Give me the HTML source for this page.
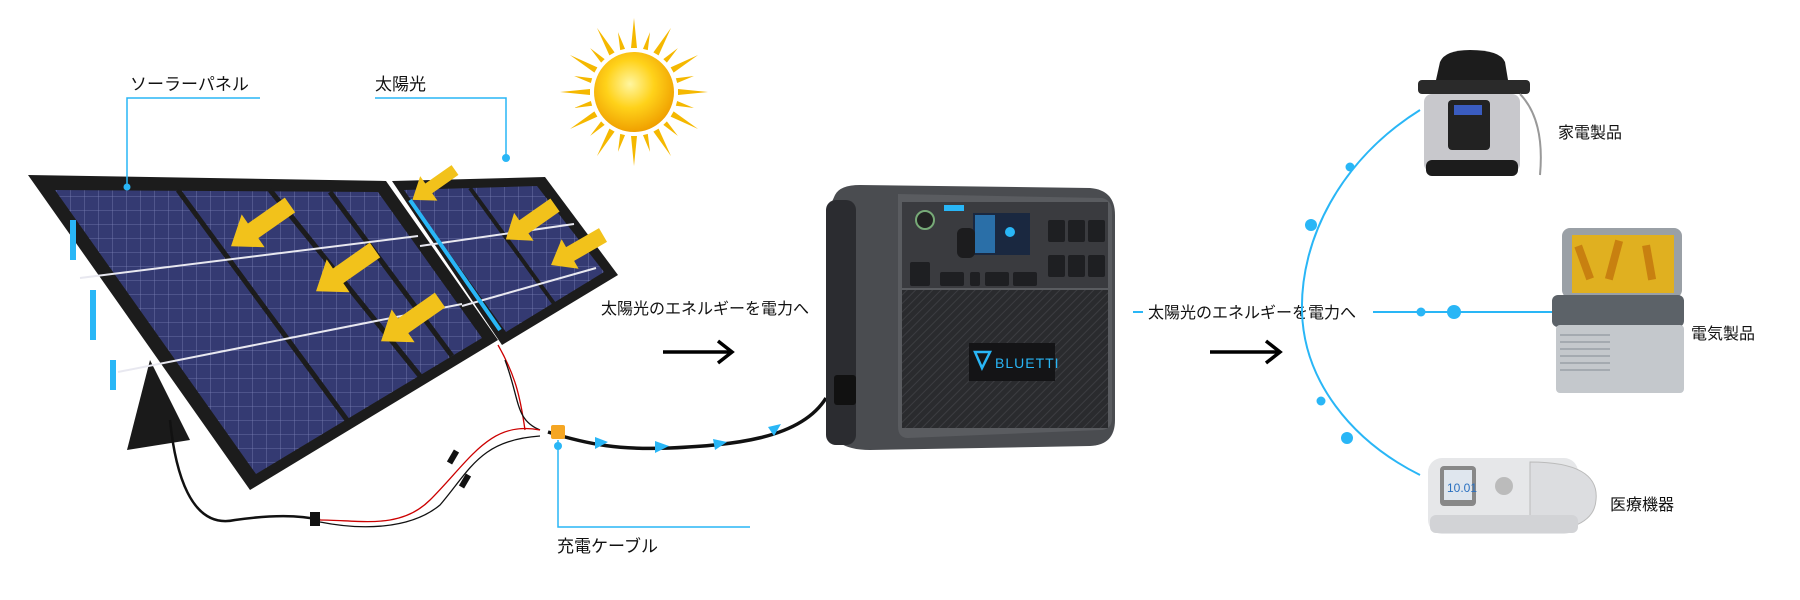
<!DOCTYPE html>
<html><head><meta charset="utf-8"><style>
html,body{margin:0;padding:0;background:#fff;}
svg{display:block}
text{font-family:"Liberation Sans","Noto Sans CJK JP",sans-serif;fill:#111;}
</style></head><body>
<svg width="1800" height="600" viewBox="0 0 1800 600" xmlns="http://www.w3.org/2000/svg">
<defs>
<radialGradient id="sun" cx="45%" cy="40%" r="60%"><stop offset="0" stop-color="#fff6a0"/><stop offset="0.5" stop-color="#ffd21a"/><stop offset="1" stop-color="#f0a000"/></radialGradient>
<pattern id="cells" width="14" height="14" patternUnits="userSpaceOnUse"><rect width="14" height="14" fill="#343a72"/><path d="M0 0H14M0 0V14" stroke="#7a80b4" stroke-width="0.8"/></pattern>
<pattern id="carbon" width="6" height="6" patternUnits="userSpaceOnUse" patternTransform="rotate(45)"><rect width="6" height="6" fill="#2a2b2e"/><path d="M0 0V6" stroke="#3c3d41" stroke-width="2"/></pattern>
<polygon id="ray" points="-3,-44 3,-44 0,-74"/>
<polygon id="ray2" points="-2.5,-44 2.5,-44 0,-62"/>
</defs>

<!-- Sun -->
<g transform="translate(634,92)" fill="#f5b800">
<use href="#ray" transform="rotate(0)"/><use href="#ray2" transform="rotate(15)"/><use href="#ray" transform="rotate(30)"/><use href="#ray2" transform="rotate(45)"/>
<use href="#ray" transform="rotate(60)"/><use href="#ray2" transform="rotate(75)"/><use href="#ray" transform="rotate(90)"/><use href="#ray2" transform="rotate(105)"/>
<use href="#ray" transform="rotate(120)"/><use href="#ray2" transform="rotate(135)"/><use href="#ray" transform="rotate(150)"/><use href="#ray2" transform="rotate(165)"/>
<use href="#ray" transform="rotate(180)"/><use href="#ray2" transform="rotate(195)"/><use href="#ray" transform="rotate(210)"/><use href="#ray2" transform="rotate(225)"/>
<use href="#ray" transform="rotate(240)"/><use href="#ray2" transform="rotate(255)"/><use href="#ray" transform="rotate(270)"/><use href="#ray2" transform="rotate(285)"/>
<use href="#ray" transform="rotate(300)"/><use href="#ray2" transform="rotate(315)"/><use href="#ray" transform="rotate(330)"/><use href="#ray2" transform="rotate(345)"/>
<circle r="40" fill="url(#sun)"/>
</g>

<!-- Stand -->
<polygon points="127,450 150,360 190,440 127,450" fill="#1a1a1a"/>
<!-- Left panel -->
<polygon points="28,175 386,181 498,340 250,490" fill="#1c1c1c"/>
<polygon points="55,190 378,192 482,338 256,474" fill="url(#cells)"/>
<g stroke="#1c1c1c" stroke-width="5"><line x1="178" y1="190" x2="347" y2="420"/><line x1="270" y1="190" x2="420" y2="376"/><line x1="330" y1="192" x2="452" y2="356"/></g>
<g stroke="#e8e8f0" stroke-width="2"><line x1="80" y1="278" x2="418" y2="236"/><line x1="118" y1="372" x2="462" y2="304"/></g>
<g fill="#29b6f6"><rect x="70" y="220" width="6" height="40"/><rect x="90" y="290" width="6" height="50"/><rect x="110" y="360" width="6" height="30"/></g>
<!-- Right panel -->
<polygon points="392,181 545,177 618,275 502,345" fill="#1c1c1c"/>
<polygon points="404,190 537,186 604,272 506,332" fill="url(#cells)"/>
<g stroke="#1c1c1c" stroke-width="4"><line x1="470" y1="188" x2="555" y2="305"/></g>
<g stroke="#e8e8f0" stroke-width="2"><line x1="420" y1="246" x2="574" y2="224"/><line x1="462" y1="306" x2="596" y2="268"/></g>
<line x1="410" y1="200" x2="500" y2="330" stroke="#29b6f6" stroke-width="4"/>

<!-- Yellow arrows -->
<g fill="#f2c21b">
<g transform="translate(455,170) rotate(145)"><polygon points="0,-6 32,-6 32,-15 52,0 32,15 32,6 0,6"/></g>
<g transform="translate(290,205) rotate(145)"><polygon points="0,-9 45,-9 45,-20 72,0 45,20 45,9 0,9"/></g>
<g transform="translate(375,250) rotate(145)"><polygon points="0,-9 45,-9 45,-20 72,0 45,20 45,9 0,9"/></g>
<g transform="translate(440,300) rotate(145)"><polygon points="0,-9 45,-9 45,-20 72,0 45,20 45,9 0,9"/></g>
<g transform="translate(555,205) rotate(145)"><polygon points="0,-8 38,-8 38,-17 60,0 38,17 38,8 0,8"/></g>
<g transform="translate(603,235) rotate(150)"><polygon points="0,-8 38,-8 38,-17 60,0 38,17 38,8 0,8"/></g>
</g>

<!-- Callout lines -->
<g stroke="#29b6f6" stroke-width="1.5" fill="none">
<polyline points="260,98 127,98 127,187"/>
<polyline points="375,98 506,98 506,158"/>
<polyline points="750,527 558,527 558,440"/>
</g>
<g fill="#29b6f6"><circle cx="127" cy="187" r="3.5"/><circle cx="506" cy="158" r="4"/><circle cx="558" cy="446" r="4"/></g>
<text x="130" y="90" font-size="17">ソーラーパネル</text>
<text x="375" y="90" font-size="17">太陽光</text>
<text x="557" y="552" font-size="17">充電ケーブル</text>

<!-- Cables from panel -->
<path d="M498,345 C515,375 520,395 525,430" stroke="#c00" stroke-width="1.3" fill="none"/>
<path d="M505,360 C520,400 515,420 540,430" stroke="#111" stroke-width="1.3" fill="none"/>
<path d="M540,430 C490,420 470,460 430,500 C400,530 360,520 320,520" stroke="#c00" stroke-width="1.3" fill="none"/>
<path d="M540,436 C480,440 470,470 440,505 C410,530 360,530 320,522" stroke="#111" stroke-width="1.3" fill="none"/>
<path d="M170,420 C175,470 190,530 235,520 C270,515 300,515 320,520" stroke="#111" stroke-width="2.5" fill="none"/>
<rect x="310" y="512" width="10" height="14" fill="#111"/>
<rect x="450" y="450" width="6" height="14" fill="#111" transform="rotate(30 453 457)"/>
<rect x="462" y="474" width="6" height="14" fill="#111" transform="rotate(30 465 481)"/>
<!-- Main cable -->
<path d="M548,432 C590,445 620,450 670,448 C730,445 800,440 826,398" stroke="#111" stroke-width="3.5" fill="none"/>
<rect x="551" y="425" width="14" height="14" rx="2" fill="#f5a623"/>
<g fill="#29b6f6">
<polygon points="595,437 608,442 595,449"/><polygon points="655,441 669,446 655,453"/><polygon points="713,439 727,442 715,450"/><polygon points="768,427 781,424 774,436"/>
</g>

<!-- Power station -->
<g>
<path d="M835,195 Q840,185 860,185 L1090,188 Q1115,190 1115,215 L1115,420 Q1115,445 1090,446 L870,450 Q830,450 826,420 L826,215 Z" fill="#4a4c50"/>
<rect x="826" y="200" width="30" height="245" rx="10" fill="#2b2c30"/>
<path d="M898,194 L1102,198 Q1112,200 1112,212 L1112,418 Q1112,430 1100,430 L908,438 Q898,438 898,426 Z" fill="#5a5c60"/>
<rect x="902" y="290" width="206" height="138" fill="url(#carbon)"/>
<rect x="902" y="202" width="206" height="86" fill="#3a3b3f"/>
<circle cx="925" cy="220" r="9" fill="#222" stroke="#7a7" stroke-width="2"/>
<rect x="944" y="205" width="20" height="6" fill="#29b6f6"/>
<rect x="973" y="213" width="57" height="42" fill="#1a2840"/>
<rect x="975" y="215" width="20" height="38" fill="#2a6fa8"/>
<circle cx="1010" cy="232" r="5" fill="#29b6f6"/>
<rect x="957" y="228" width="18" height="30" rx="6" fill="#1c1c1e"/>
<g fill="#1e1f22">
<rect x="1048" y="220" width="17" height="22" rx="2"/><rect x="1068" y="220" width="17" height="22" rx="2"/><rect x="1088" y="220" width="17" height="22" rx="2"/>
<rect x="1048" y="255" width="17" height="22" rx="2"/><rect x="1068" y="255" width="17" height="22" rx="2"/><rect x="1088" y="255" width="17" height="22" rx="2"/>
<rect x="910" y="262" width="20" height="24" rx="2"/><rect x="940" y="272" width="24" height="14" rx="2"/>
<rect x="970" y="272" width="10" height="14" rx="2"/><rect x="985" y="272" width="24" height="14" rx="2"/><rect x="1013" y="272" width="24" height="14" rx="2"/>
</g>
<rect x="969" y="343" width="86" height="38" fill="#141416"/>
<polygon points="975,352 990,352 982,368" fill="none" stroke="#29b6f6" stroke-width="2.5"/>
<text x="995" y="368" font-size="14" style="fill:#29b6f6" letter-spacing="1">BLUETTI</text>
<rect x="834" y="375" width="22" height="30" rx="3" fill="#111"/>
</g>

<!-- Middle texts and arrows -->
<text x="601" y="314" font-size="16">太陽光のエネルギーを電力へ</text>
<line x1="663" y1="352" x2="730" y2="352" stroke="#000" stroke-width="3.5"/>
<polyline points="718,341 732,352 718,363" fill="none" stroke="#000" stroke-width="3.5"/>
<line x1="1133" y1="312" x2="1143" y2="312" stroke="#29b6f6" stroke-width="2"/>
<text x="1148" y="318" font-size="16">太陽光のエネルギーを電力へ</text>
<line x1="1210" y1="352" x2="1278" y2="352" stroke="#000" stroke-width="3.5"/>
<polyline points="1266,341 1280,352 1266,363" fill="none" stroke="#000" stroke-width="3.5"/>

<!-- Blue arc -->
<path d="M1420,110 C1340,160 1300,240 1302,312 C1304,380 1350,440 1420,475" stroke="#29b6f6" stroke-width="2" fill="none"/>
<line x1="1373" y1="312" x2="1552" y2="312" stroke="#29b6f6" stroke-width="2"/>
<g fill="#29b6f6"><circle cx="1350" cy="167" r="4.5"/><circle cx="1311" cy="225" r="6"/><circle cx="1321" cy="401" r="4.5"/><circle cx="1347" cy="438" r="6"/><circle cx="1421" cy="312" r="4.5"/><circle cx="1454" cy="312" r="7"/></g>

<!-- Pressure cooker -->
<g>
<path d="M1440,62 Q1445,50 1470,50 Q1500,50 1505,62 L1508,80 L1436,80 Z" fill="#1c1c1c"/>
<rect x="1418" y="80" width="112" height="14" rx="4" fill="#2a2a2a"/>
<rect x="1424" y="94" width="96" height="78" rx="8" fill="#c8c8cc"/>
<rect x="1448" y="100" width="42" height="50" rx="4" fill="#222"/>
<rect x="1454" y="105" width="28" height="10" fill="#3a5cc0"/>
<rect x="1426" y="160" width="92" height="16" rx="6" fill="#1c1c1c"/>
<path d="M1520,94 Q1545,120 1540,175" stroke="#999" stroke-width="2" fill="none"/>
</g>
<text x="1558" y="138" font-size="16">家電製品</text>

<!-- Cooler -->
<g>
<rect x="1562" y="228" width="120" height="70" rx="8" fill="#9aa0a6"/>
<rect x="1572" y="235" width="102" height="58" fill="#e0b020"/>
<g fill="#c88010"><rect x="1580" y="245" width="8" height="35" transform="rotate(-20 1584 262)"/><rect x="1610" y="240" width="8" height="40" transform="rotate(15 1614 260)"/><rect x="1645" y="245" width="8" height="35" transform="rotate(-10 1649 262)"/></g>
<rect x="1552" y="295" width="132" height="32" rx="6" fill="#5c6268"/>
<rect x="1556" y="325" width="128" height="68" rx="4" fill="#c4c8cc"/>
<g stroke="#9aa0a6" stroke-width="1.5"><line x1="1560" y1="335" x2="1610" y2="335"/><line x1="1560" y1="342" x2="1610" y2="342"/><line x1="1560" y1="349" x2="1610" y2="349"/><line x1="1560" y1="356" x2="1610" y2="356"/><line x1="1560" y1="363" x2="1610" y2="363"/><line x1="1560" y1="370" x2="1610" y2="370"/></g>
</g>
<text x="1691" y="339" font-size="16">電気製品</text>

<!-- Medical device -->
<g>
<rect x="1428" y="458" width="150" height="76" rx="14" fill="#e6e7e9"/>
<rect x="1440" y="466" width="36" height="40" rx="4" fill="#888"/>
<rect x="1444" y="470" width="28" height="30" fill="#dfe6ee"/>
<text x="1447" y="492" font-size="12" style="fill:#2a70c0">10.01</text>
<circle cx="1504" cy="486" r="9" fill="#bbb"/>
<path d="M1530,462 Q1600,462 1596,500 Q1594,532 1530,532 Z" fill="#dcdde0" stroke="#bbb"/>
<rect x="1430" y="515" width="148" height="18" rx="6" fill="#d2d3d6"/>
</g>
<text x="1610" y="510" font-size="16">医療機器</text>
</svg>
</body></html>
